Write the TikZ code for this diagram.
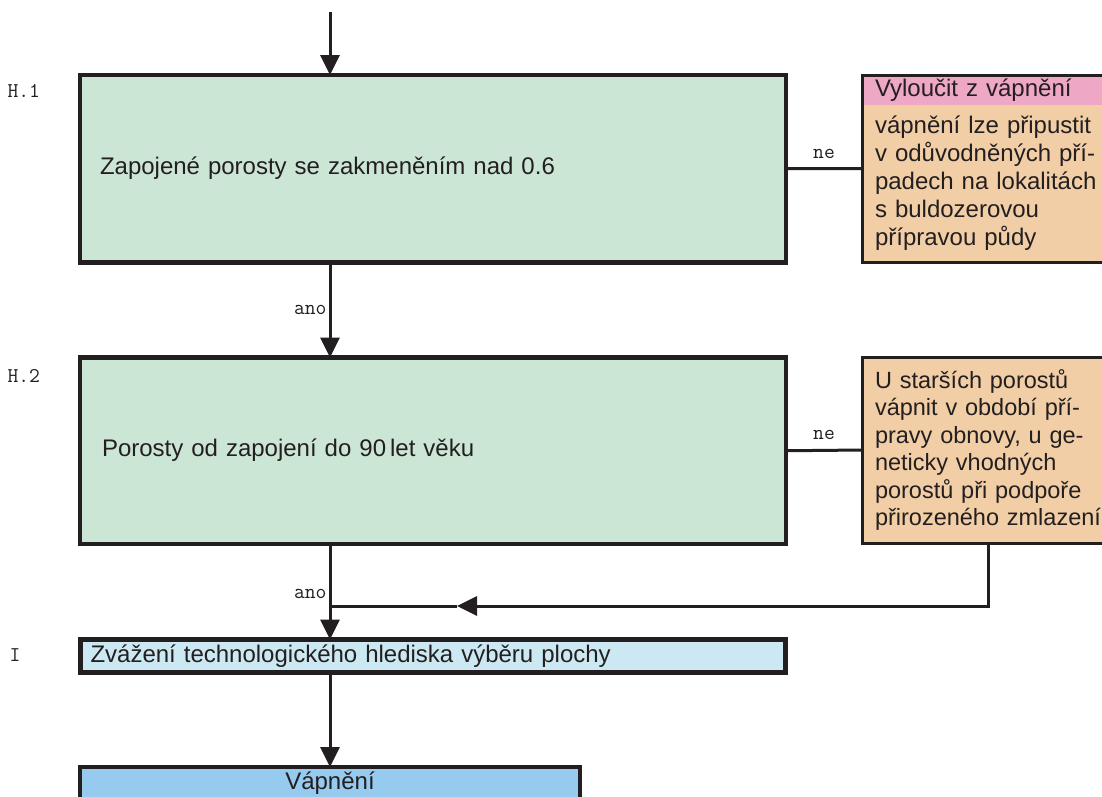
\documentclass[tikz,border=0pt]{standalone}
\usepackage{fontspec}
\setmainfont{Liberation Sans}
\usepackage{xcolor}
\usetikzlibrary{positioning,fit,calc,arrows.meta,shapes}

\definecolor{ink}{RGB}{35,31,32}
\definecolor{greenbox}{RGB}{204,230,214}
\definecolor{pinkhead}{RGB}{238,168,198}
\definecolor{peach}{RGB}{242,206,166}
\definecolor{techblue}{RGB}{204,232,242}
\definecolor{vapblue}{RGB}{150,202,238}

\begin{document}
\begin{tikzpicture}[x=1pt,y=-1pt,color=ink,line width=3pt,
    >={Triangle[length=20pt,width=19pt]}]
  \tikzstyle{box}=[draw=ink, line width=4.5pt, anchor=north west, outer sep=0pt,
      inner sep=0pt, font=\fontsize{24}{28}\selectfont]
  \tikzstyle{oneline}=[text height=18pt, text depth=6pt]
  \tikzstyle{sidebox}=[anchor=north west, outer sep=0pt, inner sep=0pt, inner xsep=13pt,
      text width=264pt, minimum width=290pt, align=left, font=\fontsize{24}{28}\selectfont]
  \tikzstyle{lbl}=[font=\ttfamily\fontsize{21}{24}\selectfont, inner sep=2pt]

  \useasboundingbox (0,0) rectangle (1102,796);
  \clip (0,0) rectangle (1102,796);

  % main column
  \node[box, oneline, fill=greenbox, minimum width=706pt, minimum height=187.5pt,
        inner xsep=20pt, text width=666pt, align=left] (h1) at (80,75)
        {Zapojené porosty se zakmeněním nad 0.6};
  \node[box, oneline, fill=greenbox, minimum width=706pt, minimum height=186.5pt,
        inner xsep=22pt, text width=662pt, align=left] (h2) at (80,357.5)
        {Porosty od zapojení do 90\,let věku};
  \node[box, oneline, fill=techblue, minimum width=705pt, minimum height=33pt,
        inner xsep=10pt, text width=685pt, align=left] (tech) at (80.5,639.5)
        {Zvážení technologického hlediska výběru plochy};
  \node[box, oneline, fill=vapblue, minimum width=500pt, minimum height=33pt] (vap) at (80,767)
        {Vápnění};

  % side boxes
  \node[sidebox, fill=pinkhead, minimum height=30pt, text height=18pt, text depth=6pt] (vylhead) at (862,75)
        {Vyloučit z vápnění};
  \node[sidebox, fill=peach, minimum height=157pt] (vyl) at (862,105)
        {vápnění lze připustit\\ v odůvodněných pří-\\ padech na lokalitách\\ s buldozerovou\\ přípravou půdy};
  \node[fit=(vylhead)(vyl), draw=ink, line width=3pt, inner sep=0pt, outer sep=0pt] (vylframe) {};
  \node[sidebox, fill=peach, draw=ink, line width=3pt, minimum height=186pt, inner xsep=11pt,
        font=\fontsize{23.5}{27.5}\selectfont] (star) at (862,357)
        {U starších porostů\\ vápnit v období pří-\\ pravy obnovy, u ge-\\ neticky vhodných\\ porostů při podpoře\\ přirozeného zmlazení};

  % level labels
  \node[lbl, anchor=west] (lh1) at (4,91) {H.1};
  \node[lbl, anchor=west] (lh2) at (4,376) {H.2};
  \node[lbl, anchor=west] (li) at (6,655) {I};

  % connectors
  \coordinate (start) at (330,12);
  \coordinate (join) at (330,606);
  \coordinate (back) at (457,606);
  \path[->] (start) edge (start |- h1.north)
        (start |- h1.south) edge node[lbl, left] (ano1) {ano} (start |- h2.north)
        (start |- tech.south) edge (start |- vap.north);
  \path (h1.east) edge node[lbl, above=7pt] (ne1) {ne} (vylframe.west)
        (h2.east) edge node[lbl, above=7pt] (ne2) {ne} (star.west);
  \draw[->] ([xshift=-19pt]star.south) |- (back);
  \draw (back) -- (join);
  \draw[->] (start |- h2.south) -- (join)
        node[lbl, anchor=south east, inner ysep=6pt] (ano2) {ano} -- (start |- tech.north);
\end{tikzpicture}
\end{document}
